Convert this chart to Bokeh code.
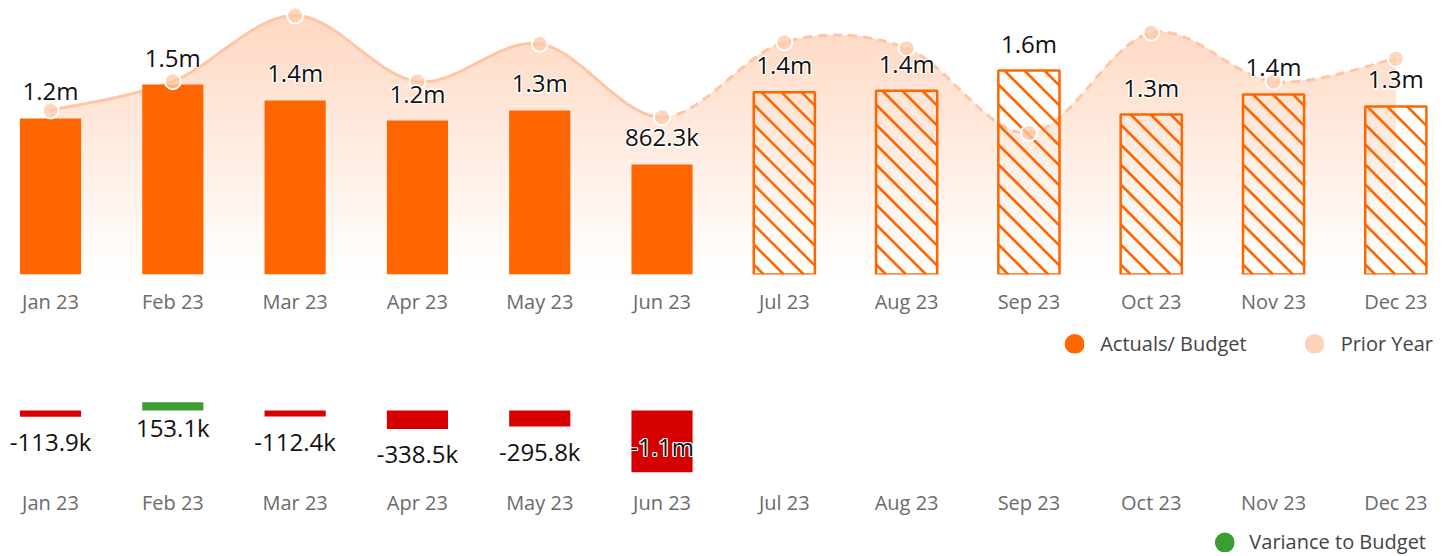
import numpy as np
from bokeh.plotting import figure
from bokeh.models import (ColumnDataSource, Range1d, FixedTicker, LabelSet,
                          Legend, LegendItem)
from bokeh.layouts import column
from bokeh.embed import file_html
from bokeh.resources import INLINE
from bokeh.core.properties import value

# ---------------- data ----------------
months = ["Jan 23", "Feb 23", "Mar 23", "Apr 23", "May 23", "Jun 23",
          "Jul 23", "Aug 23", "Sep 23", "Oct 23", "Nov 23", "Dec 23"]
actual_budget = [1223000, 1489000, 1364000, 1207000, 1286000, 862300,
                 1429000, 1440000, 1599000, 1254000, 1411000, 1317000]
prior_year = [1286000, 1515000, 2030000, 1513000, 1808000, 1233000,
              1821000, 1774000, 1108000, 1895000, 1513000, 1691000]
variance = [-113900, 153100, -112400, -338500, -295800, -1140000]
n_actual = 6  # months with actuals; the rest are budget

# ---------------- style ----------------
FONT = "Open Sans"
ORANGE = "#FF6600"
PEACH = "#FDD3BB"
LINE_PEACH = "#FFC6A5"
RED = "#D60000"
GREEN = "#3A9E35"
AXIS_GREY = "#6b6b6b"
LEGEND_GREY = "#444444"
W = 1434
FRAME_W = W
TOP_FRAME_H = 266
LABEL_SIZE = "24px"
BAR_W = 0.5
HATCH_PX = 20


def fmt(v):
    if abs(v) >= 1e6:
        return f"{v / 1e6:.1f}m"
    return f"{v / 1e3:.1f}k"


def catmull_rom(xs, ys, n=30):
    P = np.column_stack([xs, ys]).astype(float)
    P = np.vstack([P[0], P, P[-1]])
    segs = []
    t = np.linspace(0, 1, n)[:, None]
    for i in range(1, len(P) - 2):
        p0, p1, p2, p3 = P[i - 1], P[i], P[i + 1], P[i + 2]
        pts = 0.5 * ((2 * p1) + (-p0 + p2) * t +
                     (2 * p0 - 5 * p1 + 4 * p2 - p3) * t ** 2 +
                     (-p0 + 3 * p1 - 3 * p2 + p3) * t ** 3)
        segs.append(pts)
    return segs


def halo_labels(p, src, size, yoff, baseline, color="#111111"):
    for dx, dy in [(-1.2, 0), (1.2, 0), (0, -1.2), (0, 1.2),
                   (-0.9, -0.9), (-0.9, 0.9), (0.9, -0.9), (0.9, 0.9)]:
        p.add_layout(LabelSet(x="x", y="y", text="t", source=src,
                              x_offset=dx, y_offset=yoff + dy,
                              text_color="white", text_font=value(FONT),
                              text_font_size=size, text_align="center",
                              text_baseline=baseline))
    p.add_layout(LabelSet(x="x", y="y", text="t", source=src,
                          y_offset=yoff, text_color=color,
                          text_font=value(FONT), text_font_size=size,
                          text_align="center", text_baseline=baseline))


def style_axis(p):
    ax = p.xaxis[0]
    ax.ticker = FixedTicker(ticks=list(range(len(months))))
    ax.major_label_overrides = {i: m for i, m in enumerate(months)}
    ax.axis_line_color = None
    ax.major_tick_line_color = None
    ax.minor_tick_line_color = None
    ax.major_tick_out = 0
    ax.major_tick_in = 0
    ax.major_label_text_font = FONT
    ax.major_label_text_font_size = "20px"
    ax.major_label_text_color = AXIS_GREY


def legend_figure(width, height, entries, location, standoff, spacing):
    lf = figure(width=width, height=height, x_range=Range1d(0, 1),
                y_range=Range1d(0, 1), x_axis_location=None,
                y_axis_location=None, toolbar_location=None,
                output_backend="svg", min_border=0, outline_line_color=None,
                background_fill_color="white", border_fill_color="white")
    lf.grid.visible = False
    items = []
    for label, color in entries:
        r = lf.scatter(x=[np.nan], y=[np.nan], marker="circle",
                       fill_color=color, line_color=color, line_width=12)
        items.append(LegendItem(label=label, renderers=[r]))
    lg = Legend(items=items, orientation="horizontal", location=location,
                glyph_width=20, glyph_height=20, label_standoff=standoff,
                spacing=spacing, padding=0, margin=0,
                border_line_color=None, background_fill_alpha=0,
                label_text_font=FONT, label_text_font_size="20px",
                label_text_color=LEGEND_GREY)
    lf.add_layout(lg)
    return lf


idx = list(range(len(months)))
x_lo = -0.409
x_hi = x_lo + FRAME_W / 122.3
y_top = 2085000

# ---------------- top chart ----------------
top = figure(width=W, height=317, x_range=Range1d(x_lo, x_hi),
             y_range=Range1d(0, y_top), y_axis_location=None,
             toolbar_location=None, output_backend="svg",
             min_border_left=0, min_border_right=0, min_border_top=8,
             min_border_bottom=0, outline_line_color=None,
             background_fill_color="white", border_fill_color="white")
top.grid.visible = False
style_axis(top)
top.xaxis.major_label_standoff = 13

segs = catmull_rom(idx, prior_year)
curve = np.vstack([s[:-1] for s in segs] + [segs[-1][-1:]])
cx, cy = curve[:, 0], curve[:, 1]

# gradient area below the prior-year curve
nb = 48
top_rgb = np.array([255, 215, 192])
for k in range(nb, 0, -1):
    hi = y_top * k / nb
    f = (k - 0.5) / nb
    rgb = (255 - f * (255 - top_rgb)).round().astype(int)
    col = "#%02x%02x%02x" % tuple(rgb)
    top.varea(x=cx, y1=np.zeros_like(cy), y2=np.minimum(cy, hi),
              fill_color=col, fill_alpha=1.0)

solid = np.vstack(segs[:n_actual - 1])
dashed = np.vstack(segs[n_actual - 1:])
top.line(solid[:, 0], solid[:, 1], line_color=LINE_PEACH, line_width=3)
top.line(dashed[:, 0], dashed[:, 1], line_color=LINE_PEACH, line_width=3,
         line_dash="9 6")

src_act = ColumnDataSource(dict(x=idx[:n_actual], top=actual_budget[:n_actual]))
src_bud = ColumnDataSource(dict(x=idx[n_actual:], top=actual_budget[n_actual:]))
top.vbar(x="x", top="top", width=BAR_W, source=src_act, fill_color=ORANGE,
         line_color=None)

# 45-degree hatch inside the budget bars (spacing in screen pixels)
px_x = FRAME_W / (x_hi - x_lo)
px_y = TOP_FRAME_H / y_top
hx0, hy0, hx1, hy1 = [], [], [], []
bw_px = BAR_W * px_x
for xc, val in zip(idx[n_actual:], actual_budget[n_actual:]):
    h_px = val * px_y
    left = xc - BAR_W / 2
    k = HATCH_PX / 2
    while k < bw_px + h_px:
        u0, u1 = max(0.0, k - h_px), min(bw_px, k)
        hx0.append(left + u0 / px_x); hy0.append((k - u0) / px_y)
        hx1.append(left + u1 / px_x); hy1.append((k - u1) / px_y)
        k += HATCH_PX
top.segment(x0=hx0, y0=hy0, x1=hx1, y1=hy1, line_color=ORANGE,
            line_width=2.6)
top.vbar(x="x", top="top", width=BAR_W, source=src_bud, fill_color=None,
         line_color=ORANGE, line_width=2.5)

top.scatter(idx, prior_year, size=16, fill_color="#FFC9AA", fill_alpha=0.75,
            line_color="white", line_width=2)

src_lab = ColumnDataSource(dict(x=idx, y=actual_budget,
                                t=[fmt(v) for v in actual_budget]))
halo_labels(top, src_lab, LABEL_SIZE, 18, "alphabetic")

leg_top = legend_figure(1433, 52, [("Actuals/ Budget", ORANGE), ("Prior Year", PEACH)],
                        "center_right", 16, 58)

# ---------------- variance chart ----------------
vmin = min(variance)
bot = figure(width=W, height=149, x_range=Range1d(x_lo, x_hi),
             y_range=Range1d(vmin, -vmin * 32 / 62), y_axis_location=None,
             toolbar_location=None, output_backend="svg",
             min_border_left=0, min_border_right=0, min_border_top=9,
             min_border_bottom=0, outline_line_color=None,
             background_fill_color="white", border_fill_color="white")
bot.grid.visible = False
style_axis(bot)
bot.xaxis.major_label_standoff = 16

vx = idx[:len(variance)]
vcol = [GREEN if v > 0 else RED for v in variance]
bot.vbar(x=vx, top=variance, bottom=0, width=BAR_W, fill_color=vcol,
         line_color=None)

inside = [abs(v) > 0.8 * abs(vmin) for v in variance]
neg_out = [i for i, v in enumerate(variance) if v < 0 and not inside[i]]
pos = [i for i, v in enumerate(variance) if v >= 0]
ins = [i for i in range(len(variance)) if inside[i]]

src_neg = ColumnDataSource(dict(x=[vx[i] for i in neg_out],
                                y=[variance[i] for i in neg_out],
                                t=[fmt(variance[i]) for i in neg_out]))
src_pos = ColumnDataSource(dict(x=[vx[i] for i in pos], y=[0 for i in pos],
                                t=[fmt(variance[i]) for i in pos]))
src_ins = ColumnDataSource(dict(x=[vx[i] for i in ins],
                                y=[variance[i] for i in ins],
                                t=[fmt(variance[i]) for i in ins]))
halo_labels(bot, src_neg, LABEL_SIZE, -25, "middle")
halo_labels(bot, src_pos, LABEL_SIZE, -17, "middle")
halo_labels(bot, src_ins, LABEL_SIZE, 26, "middle")

leg_bot = legend_figure(1426, 37, [("Variance to Budget", GREEN)], "bottom_right",
                        15, 0)

layout = column(top, leg_top, bot, leg_bot)
open("out.html", "w").write(file_html(layout, INLINE))
